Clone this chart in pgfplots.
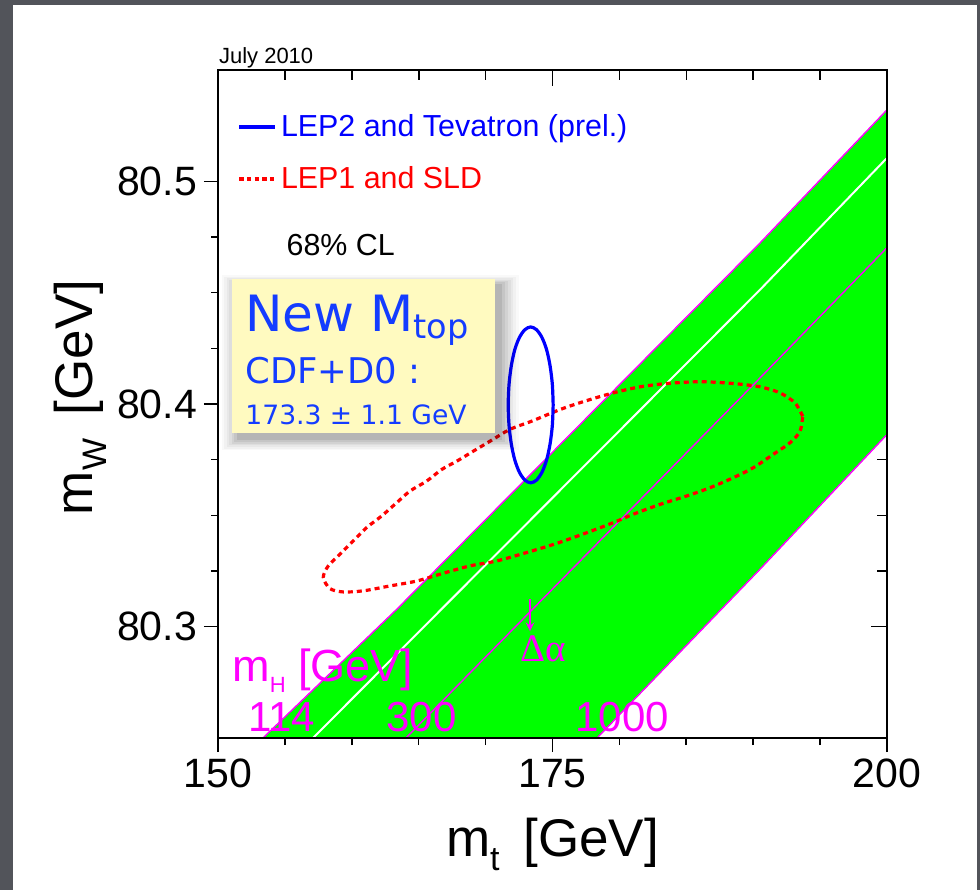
\documentclass[border=0pt]{standalone}
\usepackage{pgfplots}
\pgfplotsset{compat=1.18}
\usepackage{fontspec}
\setmainfont{Liberation Sans}
\newfontfamily\boxfont{DejaVu Sans}
\newfontfamily\greekfont{Liberation Serif}
\usetikzlibrary{shadows}
\definecolor{bgdark}{RGB}{82,84,90}
\definecolor{bandgreen}{RGB}{0,255,0}
\definecolor{mag}{RGB}{255,0,255}
\definecolor{notebg}{RGB}{255,250,192}
\definecolor{noteblue}{RGB}{20,60,255}

\begin{document}
\begin{tikzpicture}
\fill[bgdark] (0,0) rectangle (490pt,445pt);
\fill[white] (6.5pt,0) rectangle (488.5pt,442.5pt);
\useasboundingbox (0,0) rectangle (490pt,445pt);

% top and right ticks, pointing inward (drawn first, band covers them)
\begin{axis}[
  at={(109pt,76pt)}, anchor=south west,
  width=334.5pt, height=334pt, scale only axis,
  xmin=150, xmax=200, ymin=80.25, ymax=80.55,
  xtick={150,175,200}, ytick={80.3,80.4,80.5},
  minor x tick num=4, minor y tick num=3,
  xtick pos=top, ytick pos=right, tick align=inside,
  xticklabels={}, yticklabels={},
  major tick length=8pt, minor tick length=5pt,
  tick style={black, line width=0.8pt},
  axis line style={line width=1.3pt},
]
\end{axis}

\begin{axis}[
  at={(109pt,76pt)}, anchor=south west,
  width=334.5pt, height=334pt, scale only axis,
  xmin=150, xmax=200, ymin=80.25, ymax=80.55,
  xtick={150,175,200}, ytick={80.3,80.4,80.5},
  minor x tick num=4, minor y tick num=3,
  xtick pos=bottom, ytick pos=left, tick align=outside,
  major tick length=7pt, minor tick length=3.5pt,
  tick style={black, line width=0.8pt},
  axis line style={line width=1.3pt},
  axis on top, clip mode=individual,
  scaled ticks=false,
  /pgf/number format/assume math mode=true,
  ticklabel style={font=\fontsize{20.5}{24}\selectfont},
  yticklabel style={/pgf/number format/fixed, /pgf/number format/precision=1, /pgf/number format/fixed zerofill},
  xticklabel style={/pgf/number format/fixed},
  xlabel={m\raisebox{-7pt}{\fontsize{17}{20}\selectfont t}\hspace{0.45em}[GeV]},
  ylabel={m\raisebox{-7pt}{\fontsize{17}{20}\selectfont W}\hspace{0.45em}[GeV]},
  every axis x label/.style={at={(axis description cs:0.5,-0.177)}, anchor=base,
    font=\fontsize{26.5}{30}\selectfont},
  every axis y label/.style={at={(axis description cs:-0.187,0.51)}, rotate=90, anchor=base,
    font=\fontsize{26.5}{30}\selectfont},
  legend style={at={(axis description cs:0.029,0.940)}, anchor=north west,
    draw=none, fill=none, font=\fontsize{15.2}{18}\selectfont, row sep=9.5pt,
    inner sep=0pt},
  legend cell align=left,
  legend image code/.code={\draw[#1] (0pt,0pt) -- (18pt,0pt);},
]
% SM band, m_H from 114 to 1000 GeV
\addplot[fill=bandgreen, draw=none, forget plot] coordinates {
  (153.36,80.25) (163.36,80.3078) (190.51,80.4723) (200,80.5321)
  (200,80.3863) (190.51,80.3258) (178.33,80.25)
} -- cycle;
\addplot[mag, line width=0.7pt, forget plot] coordinates {
  (153.36,80.25) (163.36,80.3078) (190.51,80.4723) (200,80.5321)};
\addplot[white, line width=1pt, forget plot] coordinates {
  (157.1,80.25) (190.51,80.4513) (200,80.5105)};
\addplot[mag, line width=0.7pt, forget plot] coordinates {
  (164.05,80.25) (190.51,80.4117) (200,80.4702)};
\addplot[mag, line width=0.7pt, forget plot] coordinates {
  (178.33,80.25) (190.51,80.3258) (200,80.3863)};

% LEP1 and SLD contour
\addplot[red, line width=1.6pt, dash pattern=on 2.5pt off 2pt, smooth, forget plot] coordinates {
  (193.70,80.3945) (193.12,80.4005) (192.00,80.4050) (190.51,80.4077)
  (188.51,80.4092) (186.02,80.4100) (183.54,80.4092) (181.54,80.4077)
  (179.54,80.4050) (177.43,80.4013) (175.56,80.3975) (173.45,80.3923)
  (171.82,80.3886) (170.33,80.3833) (169.08,80.3788) (167.84,80.3743)
  (166.72,80.3706) (165.60,80.3654) (164.35,80.3609) (163.36,80.3557)
  (162.23,80.3497) (161.11,80.3445) (159.99,80.3378) (158.99,80.3318)
  (158.24,80.3273) (157.87,80.3221) (158.37,80.3171) (159.36,80.3156)
  (160.86,80.3161) (162.86,80.3183) (164.85,80.3205) (166.84,80.3240)
  (168.83,80.3273) (170.83,80.3295) (173.07,80.3333) (175.31,80.3374)
  (177.56,80.3422) (179.54,80.3467) (181.04,80.3505) (183.03,80.3549)
  (185.03,80.3587) (186.77,80.3624) (188.51,80.3669) (190.01,80.3714)
  (191.50,80.3774) (192.75,80.3826) (193.50,80.3878) (193.70,80.3945)
};

% LEP2 and Tevatron contour
\addplot[blue, line width=1.6pt, smooth, forget plot] coordinates {
  (175.05,80.3996) (174.99,80.4087) (174.82,80.4171) (174.56,80.4244)
  (174.21,80.4299) (173.80,80.4334) (173.37,80.4346) (172.94,80.4334)
  (172.53,80.4299) (172.18,80.4244) (171.92,80.4171) (171.75,80.4087)
  (171.69,80.3996) (171.75,80.3905) (171.92,80.3821) (172.18,80.3749)
  (172.53,80.3693) (172.94,80.3658) (173.37,80.3646) (173.80,80.3658)
  (174.21,80.3693) (174.56,80.3749) (174.82,80.3821) (174.99,80.3905)
  (175.05,80.3996)
};

\addlegendimage{blue, line width=1.6pt}
\addlegendentry{\textcolor{blue}{LEP2 and Tevatron (prel.)}}
\addlegendimage{red, line width=1.6pt, dash pattern=on 2.2pt off 1.6pt}
\addlegendentry{\textcolor{red}{LEP1 and SLD}}

\node[anchor=base west, inner sep=0pt, font=\fontsize{15.2}{18}\selectfont]
  at (axis cs:155.1,80.4666) {68\% CL};
\node[anchor=base west, inner sep=0pt, font=\fontsize{11}{13}\selectfont]
  at (axis cs:150.05,80.553) {July 2010};

% note box
\fill[notebg,
  general shadow={shadow scale=1.13, shadow xshift=3pt, shadow yshift=-3pt, fill=black, opacity=0.025},
  general shadow={shadow scale=1.11, shadow xshift=3pt, shadow yshift=-3pt, fill=black, opacity=0.03},
  general shadow={shadow scale=1.09, shadow xshift=3pt, shadow yshift=-3pt, fill=black, opacity=0.035},
  general shadow={shadow scale=1.07, shadow xshift=3pt, shadow yshift=-3pt, fill=black, opacity=0.04},
  general shadow={shadow scale=1.05, shadow xshift=3pt, shadow yshift=-3pt, fill=black, opacity=0.05},
  general shadow={shadow scale=1.03, shadow xshift=3pt, shadow yshift=-3pt, fill=black, opacity=0.06},
  general shadow={shadow scale=1.01, shadow xshift=3pt, shadow yshift=-3pt, fill=black, opacity=0.08}]
  (axis cs:151.05,80.3868) rectangle (axis cs:170.70,80.4563);
\node[anchor=base west, inner sep=0pt, text=noteblue, font=\boxfont\fontsize{25}{30}\selectfont]
  at (axis cs:152.02,80.4325) {New M\raisebox{-3.5pt}{\fontsize{16.8}{20}\selectfont top}};
\node[anchor=base west, inner sep=0pt, text=noteblue, font=\boxfont\fontsize{17.7}{21}\selectfont]
  at (axis cs:152.02,80.4092) {CDF+D0 :};
\node[anchor=base west, inner sep=0pt, text=noteblue, font=\boxfont\fontsize{13.3}{16}\selectfont]
  at (axis cs:152.02,80.3908) {173.3 ± 1.1 GeV};

% Higgs mass labels
\node[anchor=base west, inner sep=0pt, text=mag, font=\fontsize{22.5}{26}\selectfont]
  at (axis cs:151.05,80.2755) {m\raisebox{-5.5pt}{\fontsize{11}{13}\selectfont H} [GeV]};
\node[anchor=base west, inner sep=0pt, text=mag, font=\fontsize{21}{25}\selectfont]
  at (axis cs:152.24,80.2531) {114};
\node[anchor=base west, inner sep=0pt, text=mag, font=\fontsize{21}{25}\selectfont]
  at (axis cs:162.56,80.2531) {300};
\node[anchor=base west, inner sep=0pt, text=mag, font=\fontsize{21}{25}\selectfont]
  at (axis cs:176.68,80.2531) {1000};
\draw[mag, line width=0.9pt, -stealth] (axis cs:173.32,80.3123) -- (axis cs:173.32,80.2980);
\node[anchor=base west, inner sep=0pt, text=mag, font=\greekfont\fontsize{19.5}{23}\selectfont]
  at (axis cs:172.57,80.2845) {Δα};
\end{axis}
\end{tikzpicture}
\end{document}
